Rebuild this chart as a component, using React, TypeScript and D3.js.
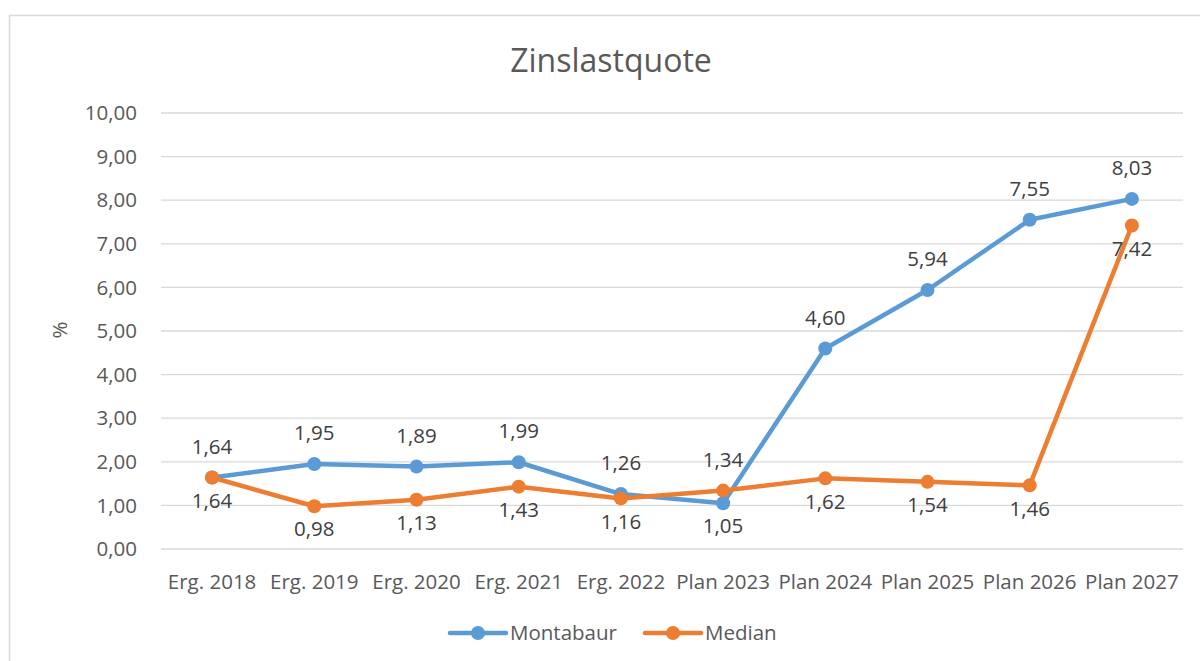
import React from "react";
import * as d3 from "d3";

const categories = ["Erg. 2018", "Erg. 2019", "Erg. 2020", "Erg. 2021", "Erg. 2022", "Plan 2023", "Plan 2024", "Plan 2025", "Plan 2026", "Plan 2027"];
const montabaur = [1.64, 1.95, 1.89, 1.99, 1.26, 1.05, 4.6, 5.94, 7.55, 8.03];
const median = [1.64, 0.98, 1.13, 1.43, 1.16, 1.34, 1.62, 1.54, 1.46, 7.42];
const yTicks = [0, 1, 2, 3, 4, 5, 6, 7, 8, 9, 10];
const seriesNames = ["Montabaur", "Median"];
const colors = ["#5b9bd5", "#ed7d31"];

const W = 1200, H = 661;
const FONT = "'Open Sans', 'Noto Sans', sans-serif";
const TXT = "#595959";

export default function App() {
  const x = d3.scaleBand().domain(categories).range([161, 1183]);
  const y = d3.scaleLinear().domain([0, 10]).range([549, 113]);
  const cx = (c: string) => (x(c) as number) + x.bandwidth() / 2;
  const fmt = (v: number) => v.toFixed(2).replace(".", ",");
  const line = d3.line<number>().x((_, i) => cx(categories[i])).y((d) => y(d));
  const series = [montabaur, median];

  return (
    <svg width={W} height={H} style={{ position: "absolute", left: 0, top: 0, fontFamily: FONT }}>
      <rect x={0} y={0} width={W} height={H} fill="#fff" />
      <rect x={9.5} y={15.5} width={1200} height={700} fill="#fff" stroke="#d9d9d9" strokeWidth={1.5} />
      <text x={611} y={72} textAnchor="middle" fontSize={32} fill={TXT}>Zinslastquote</text>
      {yTicks.map((t) => (
        <g key={t}>
          <line x1={161} x2={1183} y1={y(t)} y2={y(t)} stroke="#d9d9d9" strokeWidth={1.3} />
          <text x={137} y={y(t)} dy="0.35em" textAnchor="end" fontSize={20.5} fill={TXT}>{fmt(t)}</text>
        </g>
      ))}
      <text transform={`translate(67,330) rotate(-90)`} textAnchor="middle" fontSize={20.5} fill={TXT}>%</text>
      {categories.map((c) => (
        <text key={c} x={cx(c)} y={589} textAnchor="middle" fontSize={20.5} fill={TXT}>{c}</text>
      ))}
      {series.map((s, si) => (
        <g key={si}>
          <path d={line(s) as string} fill="none" stroke={colors[si]} strokeWidth={4.5} strokeLinejoin="round" strokeLinecap="round" />
          {s.map((v, i) => (
            <circle key={i} cx={cx(categories[i])} cy={y(v)} r={7} fill={colors[si]} />
          ))}
        </g>
      ))}
      {series.map((s, si) =>
        s.map((v, i) => {
          const other = series[1 - si][i];
          const above = si === 0 ? v >= other : v > other;
          return (
            <text key={`${si}-${i}`} x={cx(categories[i])} y={y(v) + (above ? -31 : 23)} dy="0.35em" textAnchor="middle" fontSize={20.5} fill="#404040">
              {fmt(v)}
            </text>
          );
        })
      )}
      {seriesNames.map((n, i) => {
        const lx = i === 0 ? 450 : 645;
        return (
          <g key={n}>
            <line x1={lx} x2={lx + 56} y1={633} y2={633} stroke={colors[i]} strokeWidth={4.5} strokeLinecap="round" />
            <circle cx={lx + 28} cy={633} r={7} fill={colors[i]} />
            <text x={lx + 60} y={633} dy="0.35em" fontSize={20.5} fill={TXT}>{n}</text>
          </g>
        );
      })}
    </svg>
  );
}
